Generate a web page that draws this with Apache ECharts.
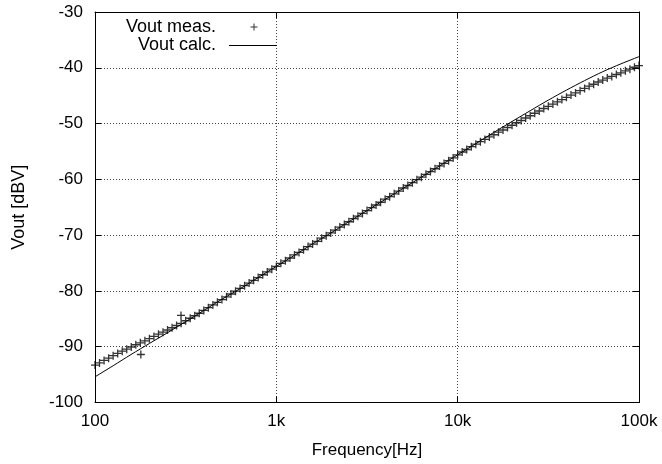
<!DOCTYPE html>
<html>
<head>
<meta charset="utf-8">
<script src="https://cdn.jsdelivr.net/npm/echarts@6/dist/echarts.min.js"></script>
<style>html,body{margin:0;padding:0;background:#fff;}#c{width:662px;height:464px;}</style>
</head>
<body>
<div id="c"></div>
<script>
const seriesNames = ['Vout meas.', 'Vout calc.'];
const xTickValues = [100, 1000, 10000, 100000];
const xTickLabels = ['100', '1k', '10k', '100k'];
const axisNames = ['Frequency[Hz]', 'Vout [dBV]'];

const freqMeas = [
  100,105.9,112.2,118.9,125.9,133.4,141.3,149.6,158.5,167.9,177.8,179,188.4,199.5,211.3,223.9,237.1,251.2,266.1,281.8,298,298.5,316.2,335,354.8,375.8,398.1,421.7,446.7,473.2,501.2,530.9,562.3,595.7,631,668.3,707.9,749.9,794.3,841.4,891.3,944.1,
  1000,1059,1122,1189,1259,1334,1413,1496,1585,1679,1778,1884,1995,2113,2239,2371,2512,2661,2818,2985,3162,3350,3548,3758,3981,4217,4467,4732,5012,5309,5623,5957,6310,6683,7079,7499,7943,8414,8913,9441,
  10000,10590,11220,11890,12590,13340,14130,14960,15850,16790,17780,18840,19950,21130,22390,23710,25120,26610,28180,29850,31620,33500,35480,37580,39810,42170,44670,47320,50120,53090,56230,59570,63100,66830,70790,74990,79430,84140,89130,94410,100000
];
const vMeas = [
  -93.3,-92.9,-92.45,-92.05,-91.6,-91.2,-90.8,-90.45,-90.05,-89.65,-89.3,-91.4,-88.95,-88.55,-88.15,-87.75,-87.4,-87.0,-86.6,-86.2,-84.4,-85.8,-85.35,-84.9,-84.45,-84.0,-83.5,-83.0,-82.5,-82.05,-81.55,-81.05,-80.55,-80.05,-79.55,-79.05,-78.6,-78.1,-77.6,-77.1,-76.6,-76.1,
  -75.6,-75.05,-74.6,-74.1,-73.55,-73.1,-72.6,-72.05,-71.6,-71.1,-70.55,-70.1,-69.6,-69.1,-68.55,-68.1,-67.6,-67.05,-66.6,-66.1,-65.6,-65.05,-64.6,-64.1,-63.55,-63.1,-62.6,-62.1,-61.55,-61.1,-60.6,-60.05,-59.6,-59.1,-58.6,-58.1,-57.6,-57.15,-56.65,-56.15,
  -55.6,-55.1,-54.65,-54.15,-53.7,-53.25,-52.85,-52.4,-52.0,-51.55,-51.15,-50.7,-50.3,-49.85,-49.45,-49.0,-48.6,-48.15,-47.75,-47.3,-46.9,-46.5,-46.1,-45.7,-45.3,-44.9,-44.5,-44.1,-43.7,-43.3,-42.95,-42.55,-42.2,-41.85,-41.55,-41.2,-40.9,-40.55,-40.25,-39.9,-39.6
];
const freqCalc = [100,126,158,200,251,316,398,501,631,794,1000,1260,1580,2000,2510,3160,3980,5010,6310,7940,10000,12600,15800,20000,25100,31600,39800,50100,63100,79400,100000];
const vCalc = [-95.4,-93.4,-91.4,-89.4,-87.5,-85.5,-83.5,-81.5,-79.6,-77.6,-75.6,-73.6,-71.6,-69.6,-67.6,-65.6,-63.6,-61.6,-59.6,-57.6,-55.6,-53.6,-51.6,-49.6,-47.7,-45.8,-44.0,-42.3,-40.7,-39.3,-38.0];

const FONT = 'Liberation Sans';
const crossPath = 'path://M3,0H4V3H7V4H4V7H3V4H0V3H3Z';
const crossPathBold = 'path://M3.35,0H4.65V3.35H8V4.65H4.65V8H3.35V4.65H0V3.35H3.35Z';

const measData = freqMeas.map((f, i) => [f, vMeas[i]]);
const calcData = freqCalc.map((f, i) => [f, vCalc[i]]);

const chart = echarts.init(document.getElementById('c'), null, {renderer: 'canvas'});
const tickStyle = {show: true, inside: true, length: 6, lineStyle: {color: '#000', width: 1}};
const gridLine = {show: true, lineStyle: {color: '#444', width: 1, type: [1, 2]}};
chart.setOption({
  animation: false,
  backgroundColor: '#fff',
  grid: {left: 95, right: 23, top: 12, bottom: 61, containLabel: false},
  legend: [
    {
      data: [{name: seriesNames[0], icon: crossPath, itemStyle: {color: '#000'}}],
      orient: 'vertical', align: 'right', right: 404.5, top: 18, padding: 0,
      itemWidth: 7, itemHeight: 7,
      selectedMode: false,
      textStyle: {fontFamily: FONT, fontSize: 18, color: '#000', padding: [0, 29.5, 0, 0]}
    },
    {
      data: [{name: seriesNames[1], icon: 'rect', itemStyle: {color: '#000'}}],
      orient: 'vertical', align: 'right', right: 385, top: 36.5, padding: 0,
      itemWidth: 48, itemHeight: 1,
      selectedMode: false,
      textStyle: {fontFamily: FONT, fontSize: 18, color: '#000', padding: [0, 8, 0, 0]}
    }
  ],
  xAxis: [
    {
      type: 'log', logBase: 10, min: 100, max: 100000,
      name: axisNames[0], nameLocation: 'middle', nameGap: 39.5,
      nameTextStyle: {fontFamily: FONT, fontSize: 17, color: '#000'},
      axisLine: {show: true, lineStyle: {color: '#000', width: 1}},
      axisTick: tickStyle,
      axisLabel: {fontFamily: FONT, fontSize: 17, color: '#000', margin: 10,
        formatter: v => { const i = xTickValues.findIndex(t => Math.abs(t - v) / t < 1e-6); return i >= 0 ? xTickLabels[i] : ''; }},
      splitLine: gridLine,
      minorTick: {show: false}
    },
    {
      type: 'log', logBase: 10, min: 100, max: 100000, position: 'top',
      axisLine: {show: true, lineStyle: {color: '#000', width: 1}},
      axisTick: tickStyle, axisLabel: {show: false}, splitLine: {show: false}
    }
  ],
  yAxis: [
    {
      type: 'value', min: -100, max: -30, interval: 10,
      name: axisNames[1], nameLocation: 'middle', nameGap: 66.5, nameRotate: 90,
      nameTextStyle: {fontFamily: FONT, fontSize: 18, color: '#000'},
      axisLine: {show: true, lineStyle: {color: '#000', width: 1}},
      axisTick: tickStyle,
      axisLabel: {fontFamily: FONT, fontSize: 17, color: '#000', margin: 12},
      splitLine: gridLine
    },
    {
      type: 'value', min: -100, max: -30, interval: 10, position: 'right',
      axisLine: {show: true, lineStyle: {color: '#000', width: 1}},
      axisTick: tickStyle, axisLabel: {show: false}, splitLine: {show: false}
    }
  ],
  series: [
    {
      name: seriesNames[0], type: 'scatter', xAxisIndex: 0, yAxisIndex: 0,
      data: measData, symbol: crossPathBold, symbolSize: 8,
      itemStyle: {color: '#000'}, z: 3
    },
    {
      name: seriesNames[1], type: 'line', xAxisIndex: 0, yAxisIndex: 0,
      data: calcData, symbol: 'none', smooth: 0.3,
      lineStyle: {color: '#000', width: 1}, itemStyle: {color: '#000'}, z: 4
    }
  ]
});
</script>
</body>
</html>
